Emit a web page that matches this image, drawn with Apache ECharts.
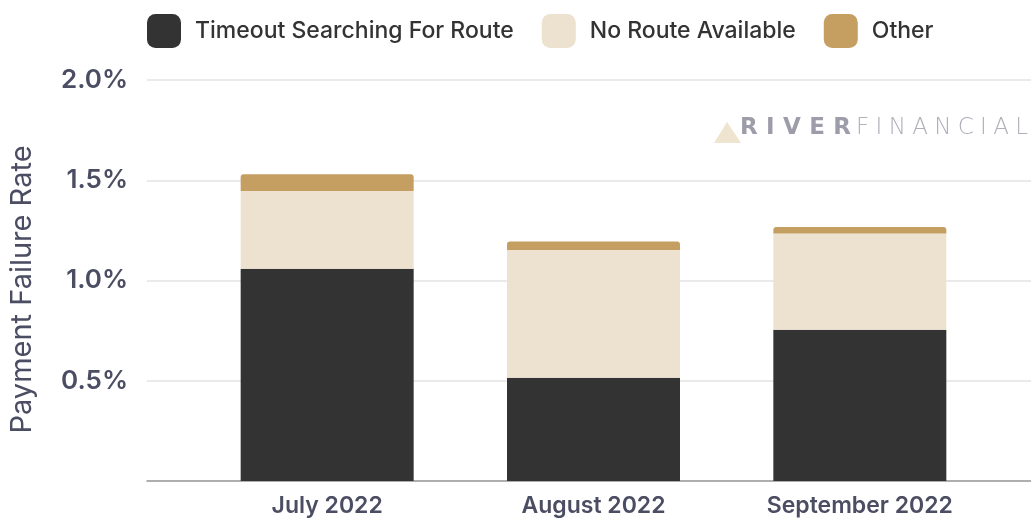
<!DOCTYPE html>
<html>
<head>
<meta charset="utf-8">
<script src="https://cdn.jsdelivr.net/npm/echarts@6/dist/echarts.min.js"></script>
<style>
  html, body { margin: 0; padding: 0; background: #fff; }
  #chart { width: 1031px; height: 518px; }
</style>
</head>
<body>
<div id="chart"></div>
<script>
// categories and stacked failure rates (in %)
const months = ['July 2022', 'August 2022', 'September 2022']
const timeoutRate = [1.058, 0.515, 0.754]
const noRouteRate = [0.388, 0.637, 0.481]
const otherRate = [0.084, 0.042, 0.032]
const seriesNames = ['Timeout Searching For Route', 'No Route Available', 'Other']
const colors = ['#333333', '#ede2d0', '#c59e62']

const chart = echarts.init(document.getElementById('chart'))

const labelColor = '#4b4d63'
const fontFamily = 'Inter, "Noto Sans", sans-serif'
const markFont = '"DejaVu Sans", sans-serif'

// spread the letters of a word between two x positions (watermark)
const ctx = document.createElement('canvas').getContext('2d')
function spacedWord(word, x0, x1, top, weight, size, fill) {
  ctx.font = weight + ' ' + size + 'px ' + markFont
  const widths = word.split('').map((ch) => ctx.measureText(ch).width)
  const total = widths.reduce((a, b) => a + b, 0)
  const gap = (x1 - x0 - total) / (word.length - 1)
  let x = x0
  return word.split('').map((ch, i) => {
    const el = {
      type: 'text',
      left: x,
      top: top,
      style: { text: ch, fontSize: size, fontWeight: weight, fontFamily: markFont, fill: fill }
    }
    x += widths[i] + gap
    return el
  })
}

const option = {
  animation: false,
  color: colors,
  textStyle: { fontFamily: fontFamily },
  legend: {
    data: seriesNames,
    left: 147,
    top: 14,
    padding: 0,
    icon: 'roundRect',
    itemWidth: 34,
    itemHeight: 34,
    itemGap: 28,
    textStyle: {
      fontSize: 23,
      fontWeight: 500,
      color: '#333',
      padding: [0, 0, 0, 9]
    }
  },
  // grid 0 carries the y axis + gridlines, grid 1 the bars
  grid: [
    { left: 147, right: 0, top: 80, bottom: 37 },
    { left: 194, right: 38, top: 80, bottom: 37 }
  ],
  xAxis: [
    {
      gridIndex: 0,
      type: 'category',
      data: [''],
      axisTick: { show: false },
      axisLabel: { show: false },
      axisLine: { show: true, lineStyle: { color: '#9a9a9a', width: 1.5 } }
    },
    {
      gridIndex: 1,
      type: 'category',
      data: months,
      axisTick: { show: false },
      axisLine: { show: false },
      axisLabel: {
        margin: 14,
        fontSize: 23,
        fontWeight: 600,
        color: labelColor
      }
    }
  ],
  yAxis: [
    {
      gridIndex: 0,
      type: 'value',
      min: 0,
      max: 2,
      interval: 0.5,
      name: 'Payment Failure Rate',
      nameLocation: 'middle',
      nameGap: 110,
      nameTextStyle: { fontSize: 29, color: labelColor, padding: [0, 18, 0, 0] },
      axisLabel: {
        margin: 19,
        fontSize: 26,
        fontWeight: 600,
        color: labelColor,
        formatter: (v) => (v === 0 ? '' : v.toFixed(1) + '%')
      },
      splitLine: { lineStyle: { color: '#e3e3e3', width: 1.5 } }
    },
    { gridIndex: 1, type: 'value', min: 0, max: 2, show: false }
  ],
  // watermark
  graphic: [
    {
      type: 'polygon',
      left: 714,
      top: 122,
      shape: { points: [[13, 0], [27, 21], [0, 21]] },
      style: { fill: '#efe4cf' }
    }
  ]
    .concat(spacedWord('RIVER', 740, 851, 117, 'bold', 23, '#9d9daa'))
    .concat(spacedWord('FINANCIAL', 856, 1028, 117, '200', 23, '#b0b0bb')),
  series: [
    {
      name: seriesNames[0],
      type: 'bar',
      stack: 'total',
      xAxisIndex: 1,
      yAxisIndex: 1,
      barWidth: 173,
      data: timeoutRate
    },
    {
      name: seriesNames[1],
      type: 'bar',
      stack: 'total',
      xAxisIndex: 1,
      yAxisIndex: 1,
      barWidth: 173,
      data: noRouteRate
    },
    {
      name: seriesNames[2],
      type: 'bar',
      stack: 'total',
      xAxisIndex: 1,
      yAxisIndex: 1,
      barWidth: 173,
      itemStyle: { borderRadius: [3, 3, 0, 0] },
      data: otherRate
    }
  ]
}

chart.setOption(option)
</script>
</body>
</html>
